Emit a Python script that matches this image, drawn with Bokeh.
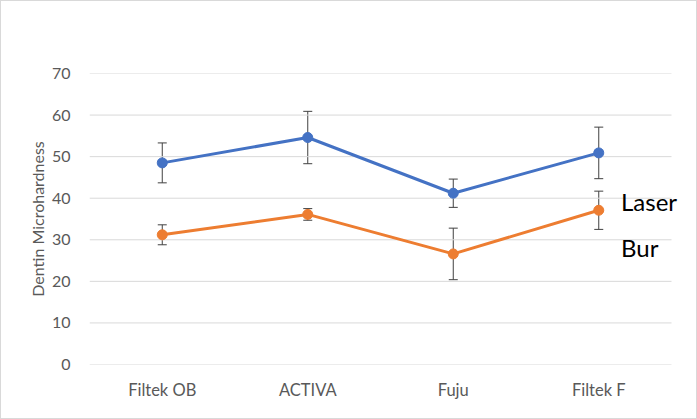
from bokeh.plotting import figure
from bokeh.models import ColumnDataSource, Whisker, TeeHead, Range1d, Legend, LegendItem
from bokeh.embed import file_html
from bokeh.resources import INLINE

categories = ["Filtek OB", "ACTIVA", "Fuju", "Filtek F"]
laser = [48.5, 54.6, 41.2, 50.9]
laser_err = [4.8, 6.3, 3.4, 6.2]
bur = [31.2, 36.1, 26.6, 37.1]
bur_err = [2.4, 1.4, 6.2, 4.6]
y_ticks = [0, 10, 20, 30, 40, 50, 60, 70]

FONT = "Lato"
GRAY = "#595959"
GRID = "#d9d9d9"

xpos = [i + 0.5 for i in range(len(categories))]
n = len(categories)
# frame extends into the right margin so the "Laser"/"Bur" texts are not clipped
p = figure(width=697, height=419, x_range=Range1d(0, n + 25 / 145.5),
           y_range=Range1d(0, 70), output_backend="svg", toolbar_location=None,
           min_border_left=88, min_border_right=2, min_border_top=72, min_border_bottom=56)
p.outline_line_color = None
p.background_fill_color = "white"
p.border_fill_color = "white"
p.styles = {"border": "1px solid #d9d9d9", "box-sizing": "border-box"}

# gridlines spanning only the category area
p.xgrid.grid_line_color = None
p.ygrid.grid_line_color = None
p.segment(x0=[0] * len(y_ticks), x1=[n] * len(y_ticks), y0=y_ticks, y1=y_ticks,
          line_color=GRID, line_width=1)

p.yaxis.ticker = y_ticks
p.yaxis.axis_line_color = None
p.yaxis.major_tick_line_color = None
p.yaxis.minor_tick_line_color = None
p.yaxis.major_label_text_font = FONT
p.yaxis.major_label_text_font_size = "16px"
p.yaxis.major_label_text_color = GRAY
p.yaxis.major_label_standoff = 13
p.yaxis.axis_label = "Dentin Microhardness"
p.yaxis.axis_label_text_font = FONT
p.yaxis.axis_label_text_font_size = "16px"
p.yaxis.axis_label_text_font_style = "normal"
p.yaxis.axis_label_text_color = GRAY
p.yaxis.axis_label_standoff = 2

p.xaxis.ticker = xpos
p.xaxis.major_label_overrides = {x: c for x, c in zip(xpos, categories)}
p.xaxis.axis_line_color = None
p.xaxis.major_tick_line_color = None
p.xaxis.minor_tick_line_color = None
p.xaxis.major_label_text_font = FONT
p.xaxis.major_label_text_font_size = "16.5px"
p.xaxis.major_label_text_color = GRAY
p.xaxis.major_label_standoff = 9

def series(vals, errs, color):
    src = ColumnDataSource(dict(x=xpos, y=vals,
                                upper=[v + e for v, e in zip(vals, errs)],
                                lower=[v - e for v, e in zip(vals, errs)]))
    w = Whisker(base="x", upper="upper", lower="lower", source=src,
                line_color="#404040", line_width=1,
                upper_head=TeeHead(size=9, line_color="#404040", line_width=1),
                lower_head=TeeHead(size=9, line_color="#404040", line_width=1))
    p.add_layout(w)
    r = p.line("x", "y", source=src, line_color=color, line_width=3)
    p.scatter("x", "y", source=src, size=10, fill_color=color, line_color=color)
    return r

r_laser = series(laser, laser_err, "#4472C4")
r_bur = series(bur, bur_err, "#ED7D31")

legend = Legend(items=[LegendItem(label="Laser", renderers=[r_laser]),
                       LegendItem(label="Bur", renderers=[r_bur])],
                location=(532, 102), glyph_width=0, glyph_height=24,
                label_standoff=0, label_height=24, spacing=17, padding=0, margin=0,
                label_text_font=FONT, label_text_font_size="24px", label_text_color="black",
                background_fill_alpha=0, border_line_color=None, click_policy="none")
p.add_layout(legend)

open("out.html", "w").write(file_html(p, INLINE))
